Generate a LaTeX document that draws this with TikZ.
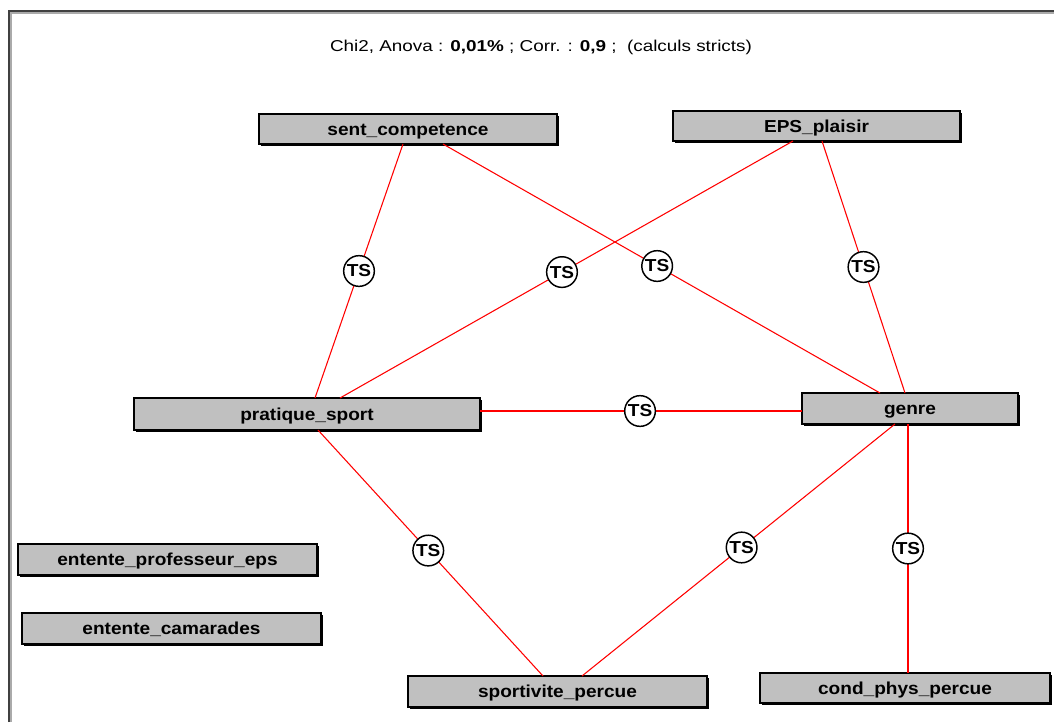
\documentclass[tikz,border=0pt]{standalone}
\usepackage{fontspec}
\setmainfont[FakeStretch=1.2]{Liberation Sans}
\newfontfamily\boxfont[FakeStretch=1.1]{Liberation Sans}
\usetikzlibrary{calc,shadows}
\definecolor{boxgray}{RGB}{192,192,192}
\definecolor{framedark}{RGB}{64,64,64}
\definecolor{framelight}{RGB}{170,170,170}
\tikzset{
  varbox/.style 2 args={draw=black, fill=boxgray, line width=1.1pt, inner sep=0pt, outer sep=0pt,
    minimum width=#1*0.75pt, minimum height=#2*0.75pt, text height=9.2pt, text depth=0pt,
    font=\boxfont\fontsize{13pt}{15pt}\selectfont\bfseries,
    drop shadow={shadow xshift=1.6pt, shadow yshift=-1.6pt, fill=black, opacity=1}},
  link/.style={draw=red, line width=0.8pt},
  tsnode/.style={circle, draw=black, fill=white, line width=1.1pt, inner sep=0pt,
    minimum size=23pt, font=\boxfont\fontsize{13pt}{15pt}\selectfont\bfseries}
}
\begin{document}
\begin{tikzpicture}[x=0.75pt, y=-0.75pt]
\useasboundingbox (0,0) rectangle (1054,722);
% window frame
\draw[framedark, line width=1.5pt] (9,722) -- (9,11) -- (1054,11);
\draw[framelight, line width=0.8pt] (11,722) -- (11,13) -- (1054,13);
% title
\node (title) at (541,47) {\fontsize{11.8pt}{14pt}\selectfont Chi2, Anova : \textbf{0,01\%} ; Corr. : \textbf{0,9} ;\ \ (calculs stricts)};
% boxes
\node[varbox={298}{30}] (sc)  at (408,129)   {sent\_competence};
\node[varbox={287}{30}] (eps) at (816.5,126) {EPS\_plaisir};
\node[varbox={346}{32}] (ps)  at (307,414)   {pratique\_sport};
\node[varbox={216}{31}] (gen) at (910,408.5) {genre};
\node[varbox={299}{31}] (epe) at (167.5,559.5) {entente\_professeur\_eps};
\node[varbox={299}{31}] (ec)  at (171.5,628.5) {entente\_camarades};
\node[varbox={299}{31}] (sp)  at (557.5,691.5) {sportivite\_percue};
\node[varbox={290}{30}] (cpp) at (905,688)   {cond\_phys\_percue};
% anchor points for the horizontal connector
\coordinate (pse) at ($(ps.north east)+(0,13)$);
\coordinate (gnw) at (pse -| gen.west);
% connectors
\draw[link] ($(sc.south west)+(144,0)$) -- node[tsnode, pos=0.5] (t1) {TS} ($(ps.north west)+(181,0)$);
\draw[link] ($(sc.south west)+(184,0)$) -- node[tsnode, pos=0.49] (t2) {TS} ($(gen.north west)+(78,0)$);
\draw[link] ($(eps.south west)+(120,0)$) -- node[tsnode, pos=0.51] (t3) {TS} ($(ps.north west)+(206,0)$);
\draw[link] ($(eps.south west)+(149,0)$) -- node[tsnode, pos=0.5] (t4) {TS} ($(gen.north west)+(103,0)$);
\draw[link, line width=1.2pt] (pse) -- node[tsnode, pos=0.497] (t5) {TS} (gnw);
\draw[link] ($(ps.south west)+(184,0)$) -- node[tsnode, pos=0.49] (t6) {TS} ($(sp.north west)+(135,0)$);
\draw[link] ($(gen.south west)+(93,0)$) -- node[tsnode, pos=0.49] (t7) {TS} ($(sp.north west)+(174,0)$);
\draw[link] ($(gen.south west)+(106,0)$) -- node[tsnode, pos=0.5] (t8) {TS} ($(cpp.north west)+(148,0)$);
\end{tikzpicture}
\end{document}
